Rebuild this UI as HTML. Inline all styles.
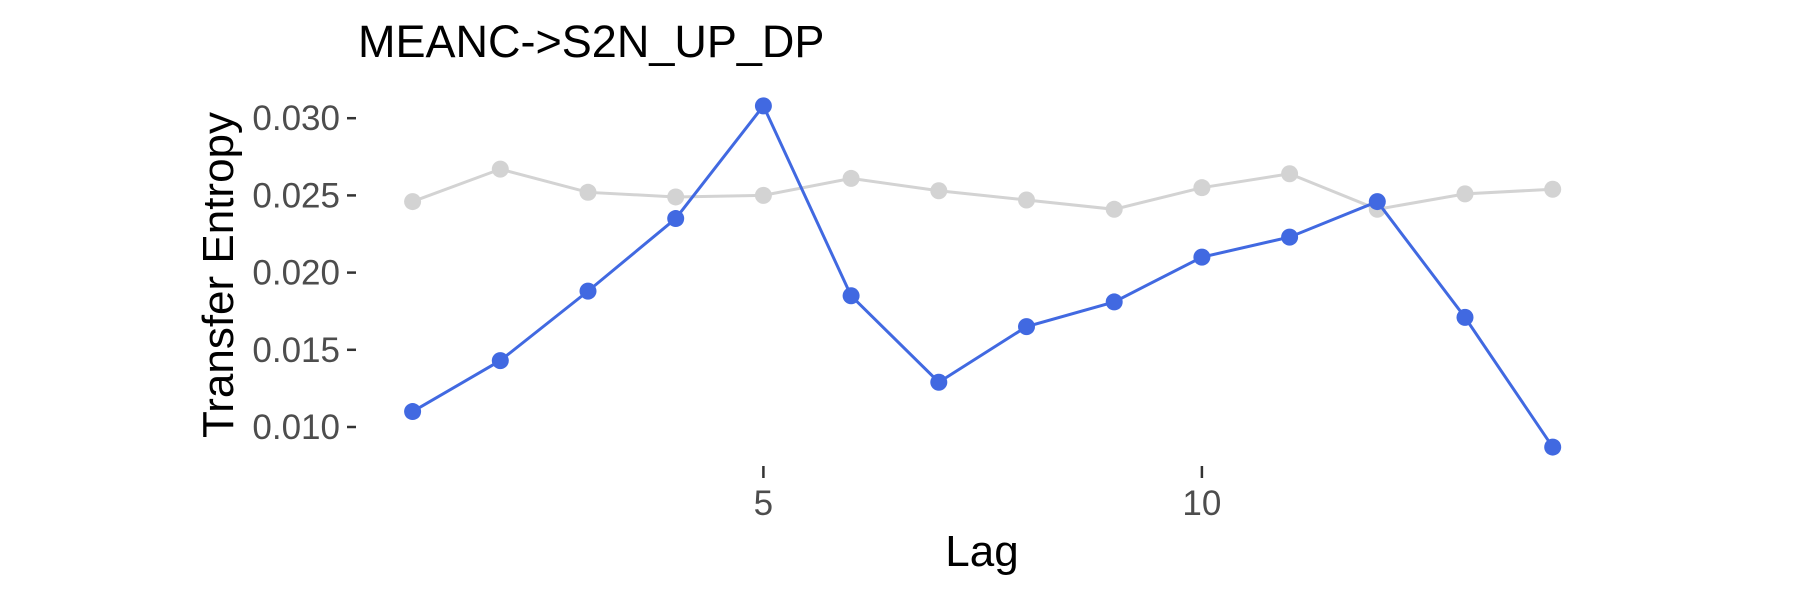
<!DOCTYPE html>
<html><head><meta charset="utf-8"><style>
html,body{margin:0;padding:0;background:#fff;}
svg{display:block;font-family:"Liberation Sans",sans-serif;}
</style></head><body>
<svg id="chart" width="1800" height="600" viewBox="0 0 1800 600">
<text x="358" y="57" font-size="45" fill="#000">MEANC-&gt;S2N_UP_DP</text>
<g id="yaxis"></g>
<g id="xaxis"></g>
<text x="0" y="0" font-size="44" fill="#000" text-anchor="middle" transform="translate(233,275) rotate(-90)">Transfer Entropy</text>
<text x="982" y="566" font-size="44" fill="#000" text-anchor="middle">Lag</text>
<g id="series"></g>
</svg>
<script>
const lags = [1,2,3,4,5,6,7,8,9,10,11,12,13,14];
const blueValues = [0.0110,0.0143,0.0188,0.0235,0.0308,0.0185,0.0129,0.0165,0.0181,0.0210,0.0223,0.0246,0.0171,0.0087];
const greyValues = [0.0246,0.0267,0.0252,0.0249,0.0250,0.0261,0.0253,0.0247,0.0241,0.0255,0.0264,0.0241,0.0251,0.0254];
const yTicks = [0.010,0.015,0.020,0.025,0.030];
const yTickLabels = ["0.010","0.015","0.020","0.025","0.030"];
const xTicks = [5,10];
const xTickLabels = ["5","10"];

const NS = "http://www.w3.org/2000/svg";
function xs(v){ return 763.4 + (v-5)*87.7; }
function ys(v){ return 427.0 - (v-0.010)/0.005*77.2; }
function mk(tag, attrs, parent){ const e=document.createElementNS(NS,tag); for(const k in attrs) e.setAttribute(k,attrs[k]); parent.appendChild(e); return e; }

const ya=document.getElementById('yaxis');
yTicks.forEach((t,i)=>{
  const l=mk('line',{x1:347,x2:356,y1:ys(t),y2:ys(t),stroke:'#333','stroke-width':2.5},ya);
  
  
  const tx=mk('text',{x:340,y:ys(t)+12,'font-size':35,fill:'#4d4d4d','text-anchor':'end'},ya);
  tx.textContent=yTickLabels[i];
  
  
});
const xa=document.getElementById('xaxis');
xTicks.forEach((t,i)=>{
  const l=mk('line',{x1:xs(t),x2:xs(t),y1:466,y2:478,stroke:'#333','stroke-width':2.5},xa);
  
  
  const tx=mk('text',{x:xs(t),y:515,'font-size':35,fill:'#4d4d4d','text-anchor':'middle'},xa);
  tx.textContent=xTickLabels[i];
  
  
});
const sg=document.getElementById('series');
function drawSeries(vals,color,name){
  const g=mk('g',{},sg);
  
  
  const pts=vals.map((v,i)=>xs(lags[i])+','+ys(v)).join(' ');
  const pl=mk('polyline',{points:pts,fill:'none',stroke:color,'stroke-width':3},g);
  
  
  vals.forEach((v,i)=>{
    const c=mk('circle',{cx:xs(lags[i]),cy:ys(v),r:8.5,fill:color},g);
    
    
  });
}
drawSeries(greyValues,'#d3d3d3','grey-series');
drawSeries(blueValues,'#4169e1','blue-series');
</script>
</body></html>
